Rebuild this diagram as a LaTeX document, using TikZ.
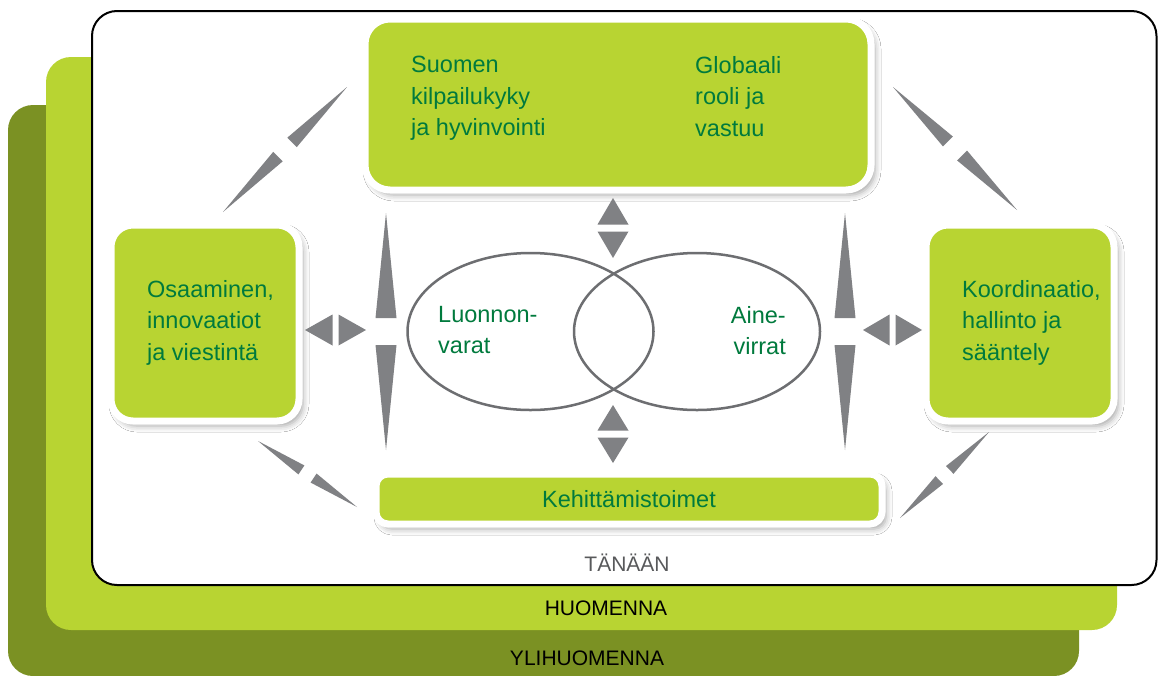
\documentclass[tikz,border=0pt]{standalone}
\usepackage{fontspec}
\setmainfont{Liberation Sans}
\usetikzlibrary{shapes.geometric,shadows.blur,calc}

\definecolor{oliivi}{RGB}{123,145,35}
\definecolor{lime}{RGB}{184,212,50}
\definecolor{tummavihrea}{RGB}{0,122,61}
\definecolor{kiilaharmaa}{RGB}{128,129,132}
\definecolor{viivaharmaa}{RGB}{109,110,113}
\definecolor{tekstiharmaa}{RGB}{88,89,91}

% kaksoiskiila: tip at #1 and #2, bases near the middle
\newcommand\kaksoiskiila[4]{%
  \path ($(#1)!0.5!(#2)$) coordinate (kk-m);
  \path ($(kk-m)!#4!(#1)$) coordinate (kk-a) ($(kk-m)!#4!(#2)$) coordinate (kk-b);
  \fill[kiila] (#1) -- ($(kk-a)!#3!90:(#1)$) -- ($(kk-a)!#3!-90:(#1)$) -- cycle;
  \fill[kiila] (#2) -- ($(kk-b)!#3!90:(#2)$) -- ($(kk-b)!#3!-90:(#2)$) -- cycle;
}

\begin{document}
\begin{tikzpicture}[x=1pt,y=-1pt]
% Tyylit
\tikzstyle{laatikko}=[fill=lime,draw=white,line width=7pt,inner sep=0pt,
  blur shadow={shadow xshift=4pt,shadow yshift=-5pt,shadow blur radius=6pt,shadow opacity=35}]
\tikzstyle{teksti}=[text=tummavihrea,font=\fontsize{23.5}{31.5}\selectfont,inner sep=0pt]
\tikzstyle{taso}=[font=\fontsize{21}{24}\selectfont,inner sep=0pt]
\tikzstyle{soikio}=[ellipse,draw=viivaharmaa,line width=2.5pt,inner sep=0pt]
\tikzstyle{kiila}=[fill=kiilaharmaa]
% Mitat
\def\Kulma{25pt}
\useasboundingbox (0,0) rectangle (1158,675);
% Tasot
\fill[oliivi,rounded corners=\Kulma] (8,105) rectangle (1079,676);
\fill[lime,rounded corners=\Kulma] (46,57) rectangle (1117,630);
\filldraw[fill=white,draw=black,line width=2pt,rounded corners=\Kulma] (92,11) rectangle (1156.5,585);
\node[taso,text=tekstiharmaa] (tanaan) at (627,563) {TÄNÄÄN};
\node[taso] (huomenna) at (606,608) {HUOMENNA};
\node[taso] (ylihuomenna) at (587,658) {YLIHUOMENNA};
% Laatikot
\node[laatikko,rounded corners=25pt,minimum width=506pt,minimum height=171pt] (yla) at (618,104.5) {};
\node[laatikko,rounded corners=22pt,minimum width=188pt,minimum height=196pt] (vasen) at (205,323) {};
\node[laatikko,rounded corners=22pt,minimum width=188pt,minimum height=196pt] (oikea) at (1020,323) {};
\node[laatikko,rounded corners=12pt,minimum width=506pt,minimum height=50pt,teksti] (kehitys) at (629,499) {Kehittämistoimet};
% Soikiot
\node[soikio,minimum width=246pt,minimum height=157pt] (luonto) at (530.5,331.5) {};
\node[soikio,minimum width=246pt,minimum height=157pt] (aine) at (697,331.5) {};
% Tekstit
\node[teksti,align=left,anchor=north west] (suomi) at (411,56) {Suomen\\kilpailukyky\\ja hyvinvointi};
\node[teksti,align=left,anchor=north west] (globaali) at (695,56) {Globaali\\rooli ja\\vastuu};
\node[teksti,align=left,anchor=north west] (osaaminen) at (147,280) {Osaaminen,\\innovaatiot\\ja viestintä};
\node[teksti,align=left,anchor=north west] (koordinaatio) at (962,280) {Koordinaatio,\\hallinto ja\\sääntely};
\node[teksti,align=left,anchor=north west] (luonnonvarat) at (438,306) {Luonnon-\\varat};
\node[teksti,align=right,anchor=north east] (ainevirrat) at (786,306) {Aine-\\virrat};
% Kiilojen paat
\coordinate (vy1) at (223,212);  \coordinate (vy2) at (347,87);
\coordinate (oy1) at (893,87);   \coordinate (oy2) at (1017,210);
\coordinate (va1) at (258,441);  \coordinate (va2) at (357,507);
\coordinate (oa1) at (900,518);  \coordinate (oa2) at (989,432);
\coordinate (vp1) at (386,213);  \coordinate (vp2) at (386,450);
\coordinate (op1) at (845,213);  \coordinate (op2) at (845,450);
\coordinate (vv1) at (305,330);  \coordinate (vv2) at (366,330);
\coordinate (ov1) at (863,330);  \coordinate (ov2) at (922,330);
\coordinate (ky1) at (613,198);  \coordinate (ky2) at (613,258);
\coordinate (ka1) at (613,405);  \coordinate (ka2) at (613,463);
% Kiilat
\kaksoiskiila{vy1}{vy2}{6.7pt}{10pt}
\kaksoiskiila{oy1}{oy2}{7pt}{10pt}
\kaksoiskiila{va1}{va2}{5.4pt}{7.3pt}
\kaksoiskiila{oa1}{oa2}{5.4pt}{7.3pt}
\kaksoiskiila{vp1}{vp2}{10.5pt}{13.5pt}
\kaksoiskiila{op1}{op2}{10.5pt}{13.5pt}
\kaksoiskiila{vv1}{vv2}{15.5pt}{3pt}
\kaksoiskiila{ov1}{ov2}{15.5pt}{3pt}
\kaksoiskiila{ky1}{ky2}{15.5pt}{3.5pt}
\kaksoiskiila{ka1}{ka2}{15.5pt}{3.5pt}
\end{tikzpicture}
\end{document}
